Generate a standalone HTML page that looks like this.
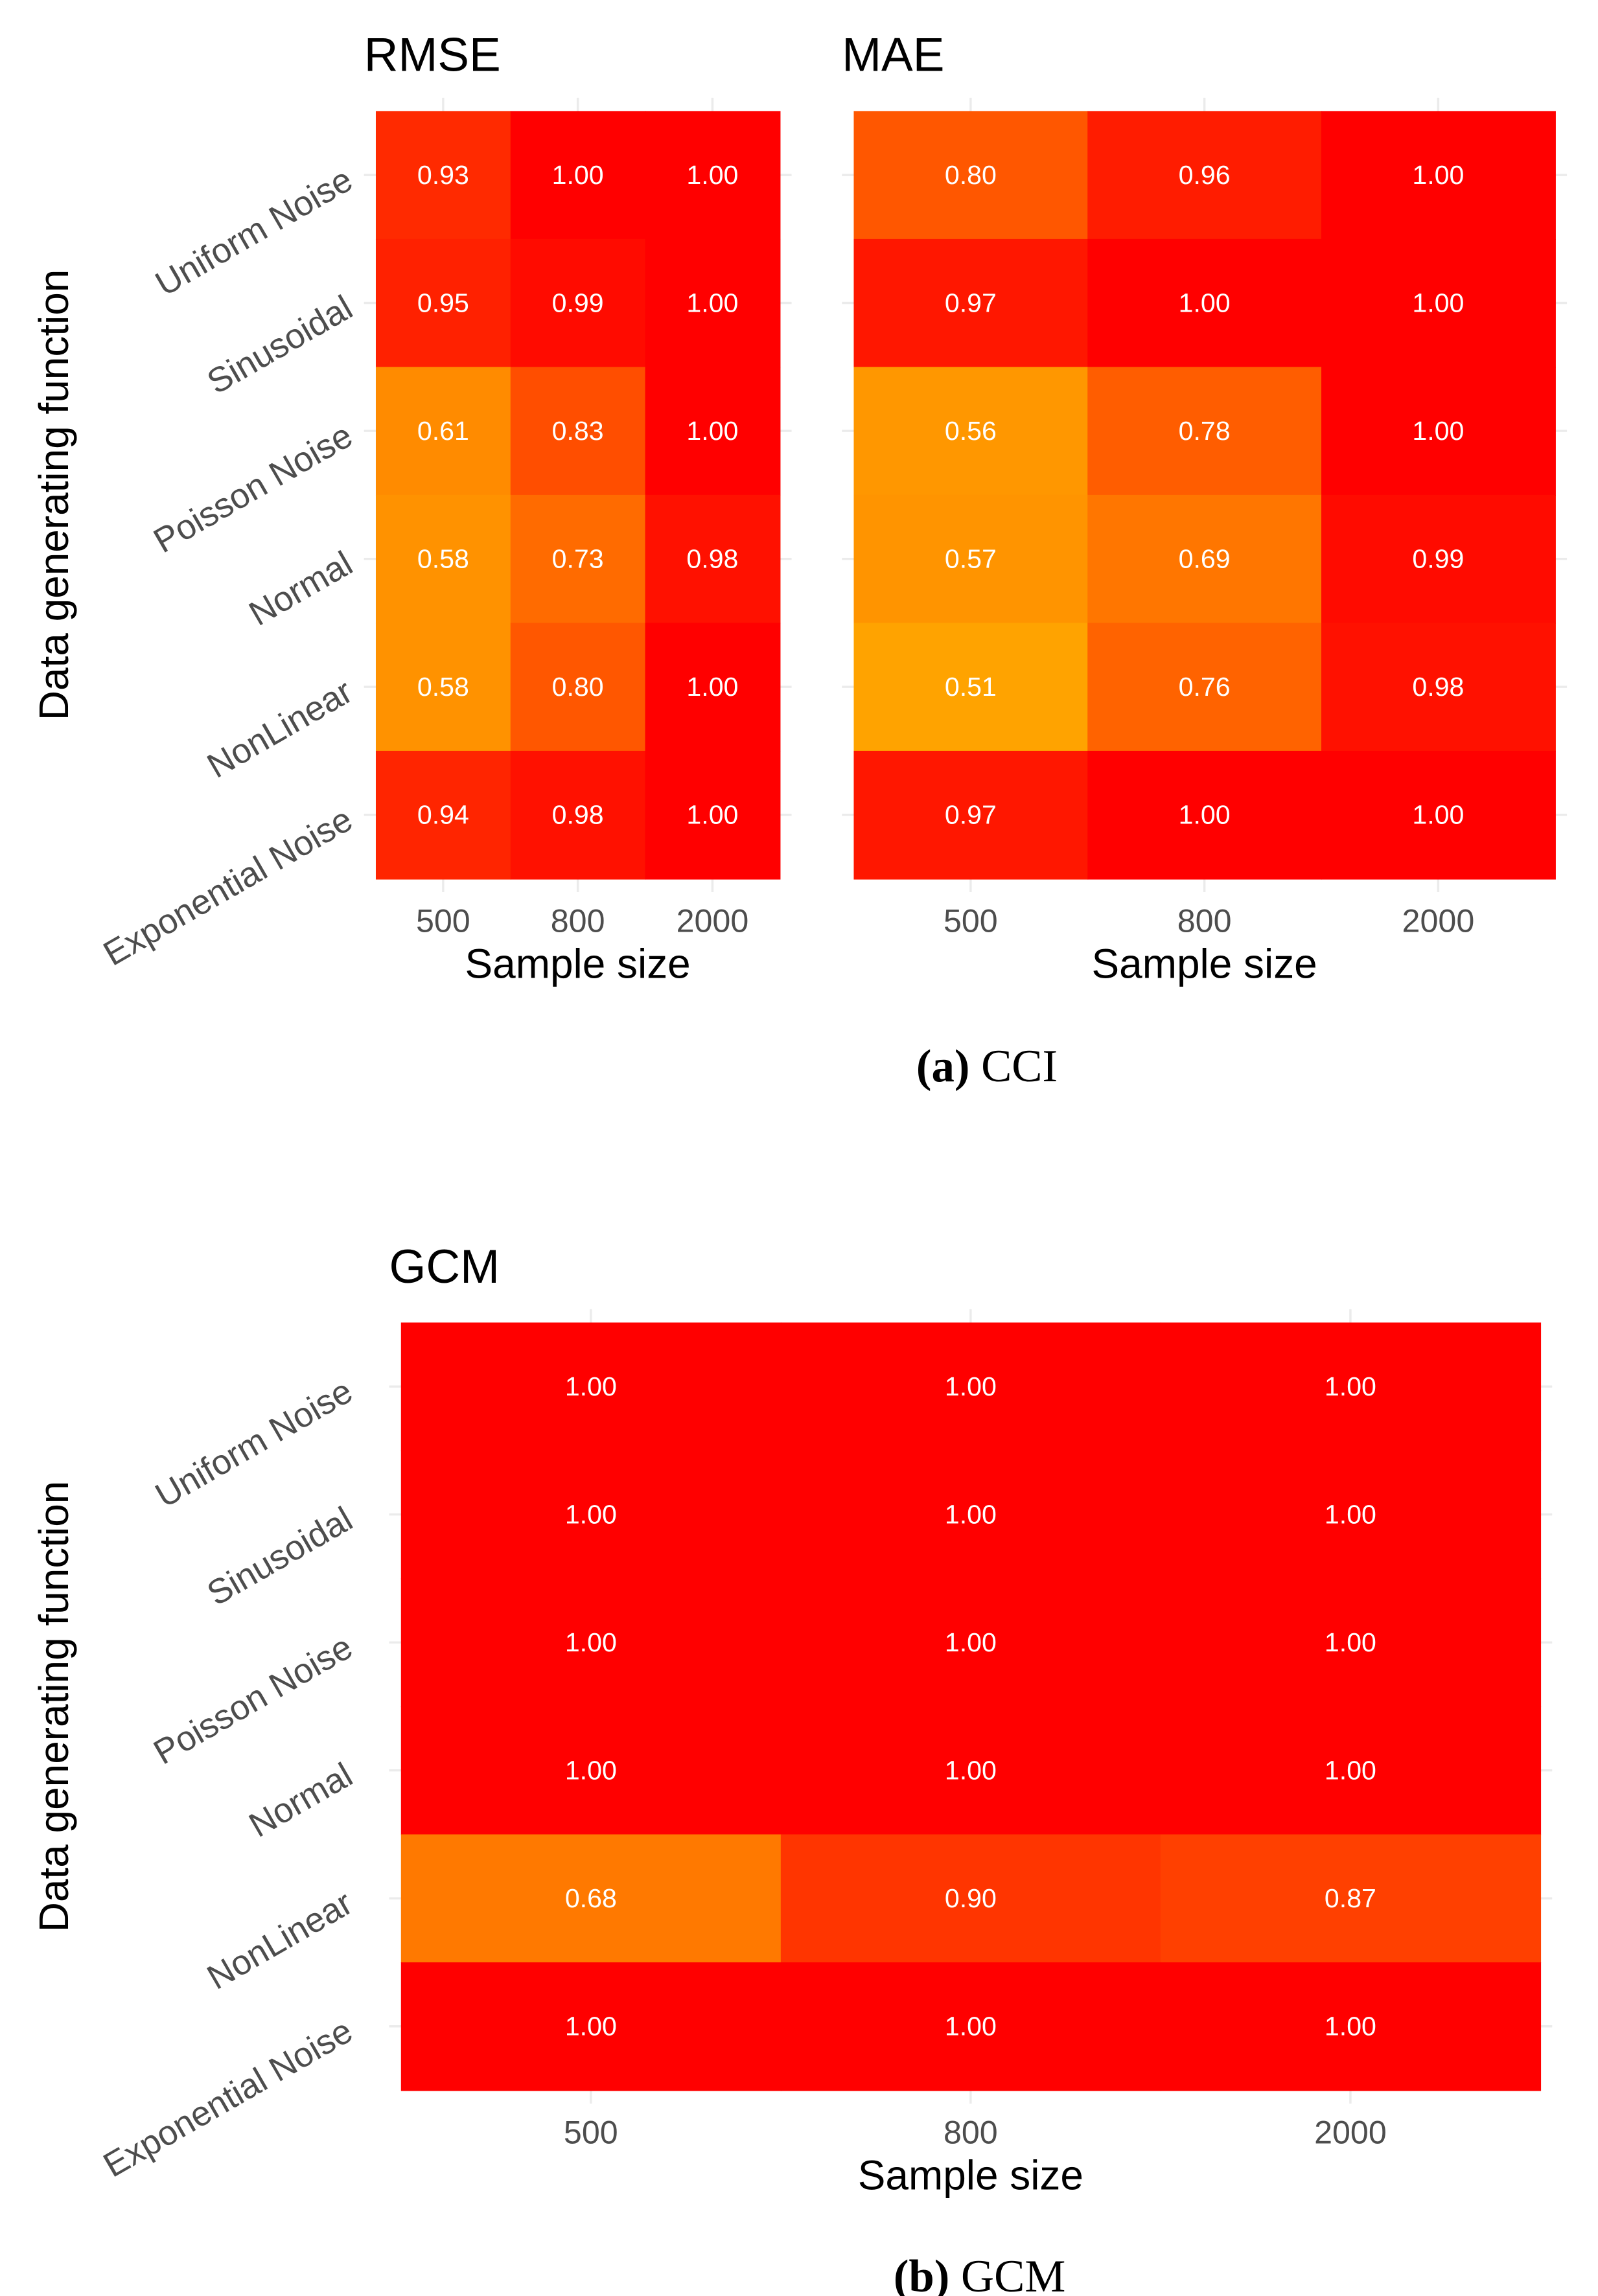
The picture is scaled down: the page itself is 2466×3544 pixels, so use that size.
<!DOCTYPE html>
<html><head><meta charset="utf-8"><style>
html,body{margin:0;padding:0;background:#fff}
svg{display:block}
text{font-family:"Liberation Sans",sans-serif}
text.serif{font-family:"Liberation Serif",serif}
</style></head><body>
<svg id="chart" width="2466" height="3544" viewBox="0 0 1080 1552" xmlns="http://www.w3.org/2000/svg"></svg>
<script>
const rows = ["Uniform Noise","Sinusoidal","Poisson Noise","Normal","NonLinear","Exponential Noise"];
const cols = ["500","800","2000"];
const rmseValues = [[0.93,1.00,1.00],[0.95,0.99,1.00],[0.61,0.83,1.00],[0.58,0.73,0.98],[0.58,0.80,1.00],[0.94,0.98,1.00]];
const maeValues = [[0.80,0.96,1.00],[0.97,1.00,1.00],[0.56,0.78,1.00],[0.57,0.69,0.99],[0.51,0.76,0.98],[0.97,1.00,1.00]];
const gcmValues = [[1.00,1.00,1.00],[1.00,1.00,1.00],[1.00,1.00,1.00],[1.00,1.00,1.00],[0.68,0.90,0.87],[1.00,1.00,1.00]];

const svg = document.getElementById('chart');
const NS = "http://www.w3.org/2000/svg";
function mk(tag, attrs, parent){
  const e = document.createElementNS(NS, tag);
  for (const k in attrs) e.setAttribute(k, attrs[k]);
  (parent||svg).appendChild(e);
  return e;
}
function color(v){
  const t = Math.max(0, Math.min(1, (1-v)/0.5));
  const g = Math.round(165*Math.pow(t,0.7));
  return `rgb(255,${g},0)`;
}
function panel(name, title, values, x0, x1, y0, y1, showY){
  const g = mk('g', {});
  
  
  const cw = (x1-x0)/cols.length, rh = (y1-y0)/rows.length;
  const xc = i => x0 + cw*(i+0.5);
  const yc = j => y0 + rh*(j+0.5);
  rows.forEach((r,j)=>{
    const l = mk('line',{x1:x0-8,x2:x1+8,y1:yc(j),y2:yc(j),stroke:'#ebebeb','stroke-width':1.5},g);
    
    
  });
  cols.forEach((c,i)=>{
    const l = mk('line',{x1:xc(i),x2:xc(i),y1:y0-9,y2:y1+9,stroke:'#ebebeb','stroke-width':1.5},g);
    
    
  });
  values.forEach((row,j)=>row.forEach((v,i)=>{
    const r = mk('rect',{x:x0+cw*i,y:y0+rh*j,width:cw+0.5,height:rh+0.5,fill:color(v)},g);
    
    
    const t = mk('text',{x:xc(i),y:yc(j)+6,'text-anchor':'middle','font-size':18,fill:'#fff'},g);
    
    
    t.textContent = v.toFixed(2);
  }));
  cols.forEach((c,i)=>{
    const t = mk('text',{x:xc(i),y:y1+36,'text-anchor':'middle','font-size':22,fill:'#4d4d4d'},g);
    
    
    t.textContent = c;
  });
  const xt = mk('text',{x:(x0+x1)/2,y:y1+67,'text-anchor':'middle','font-size':28,fill:'#000'},g);
  
  
  xt.textContent = 'Sample size';
  const tt = mk('text',{x:x0-8,y:y0-27,'font-size':32,fill:'#000'},g);
  
  
  tt.textContent = title;
  if (showY){
    rows.forEach((r,j)=>{
      const t = mk('text',{x:0,y:0,'text-anchor':'end','font-size':23.5,fill:'#4d4d4d',transform:`translate(${240},${yc(j)+8}) rotate(-30)`},g);
      
      
      t.textContent = r;
    });
    const yt = mk('text',{x:0,y:0,'text-anchor':'middle','font-size':28,fill:'#000',transform:`translate(46,${(y0+y1)/2}) rotate(-90)`},g);
    
    
    yt.textContent = 'Data generating function';
  }
}
panel('rmse','RMSE',rmseValues,254,527,75,594,true);
panel('mae','MAE',maeValues,577,1051,75,594,false);
panel('gcm','GCM',gcmValues,271,1041,894,1413,true);

function caption(name, x, y, bold, rest){
  const t = mk('text',{x:x,y:y,'text-anchor':'middle','font-size':31,fill:'#000','class':'serif'});
  
  
  const b = mk('tspan',{'font-weight':'bold'},t); b.textContent = bold;
  const r = mk('tspan',{},t); r.textContent = rest;
}
caption('caption-a',667,731,'(a)',' CCI');
caption('caption-b',662,1549,'(b)',' GCM');
</script>
</body></html>
